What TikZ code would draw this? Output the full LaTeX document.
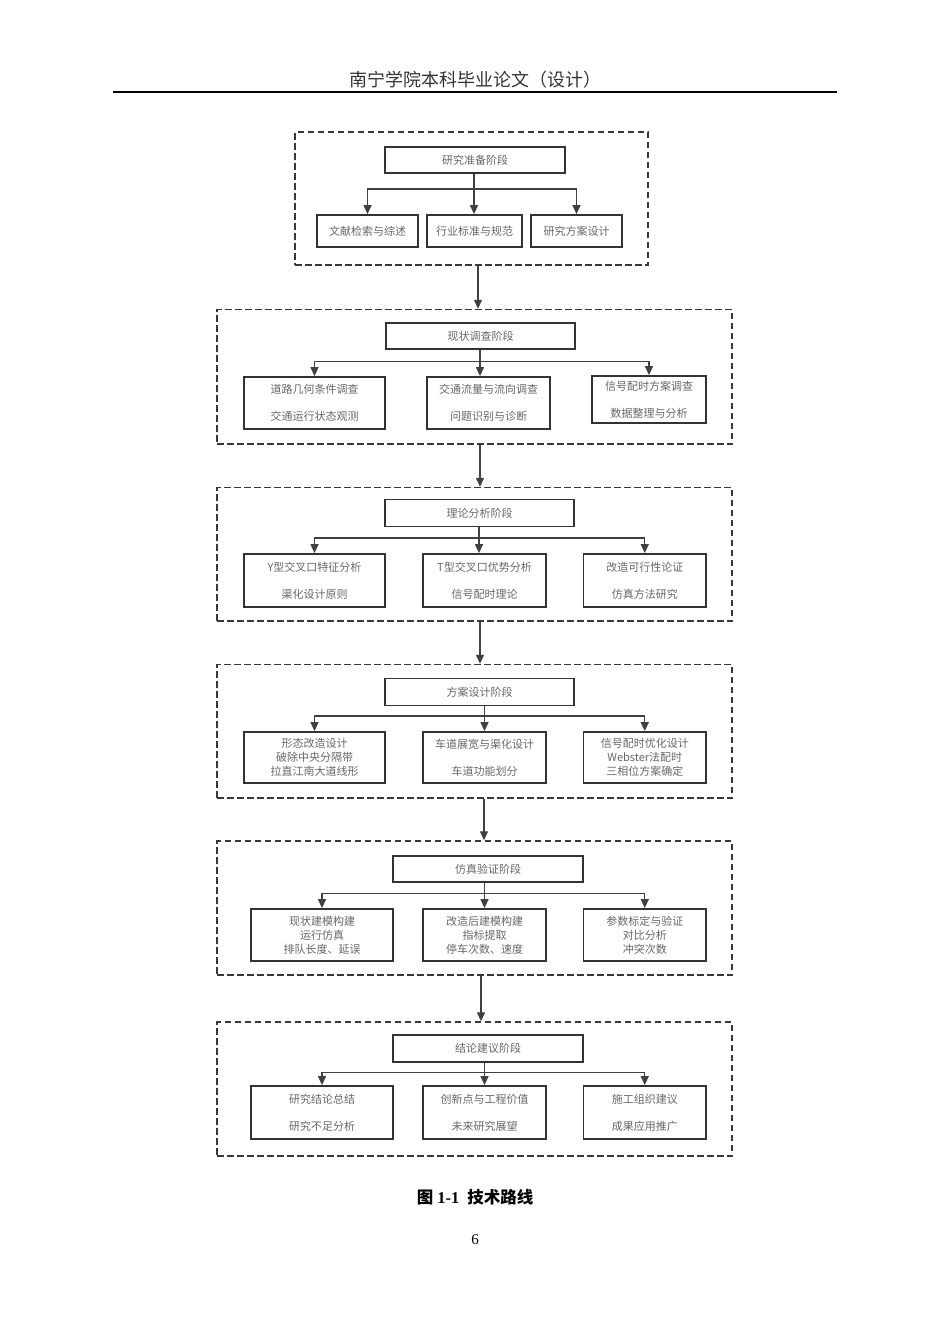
\documentclass[tikz,border=0pt]{standalone}
\usepackage{fontspec}
\setmainfont{Liberation Serif}
\newfontfamily\cjk{Noto Sans CJK SC}
\usetikzlibrary{arrows.meta}

\begin{document}
\begin{tikzpicture}[x=1pt, y=-1pt,
	stagebox/.style={draw=black!78, line width=1.4pt, dash pattern=on 6.5pt off 3.5pt},
	titlebox/.style={draw=black!80, line width=1.8pt, inner sep=0pt, font=\fontsize{11}{14}\selectfont\cjk, text=black!60},
	itembox/.style={draw=black!80, line width=1.8pt, inner sep=0pt, align=center, font=\fontsize{11}{14}\selectfont\cjk, text=black!60},
	link/.style={draw=black!75, line width=1.3pt, -{Triangle[width=8pt, length=9pt]}}]
	\useasboundingbox (0, 0) rectangle (950, 1344);

	% \stagebox#name#x#y#width#height
	\def\stagebox#1#2#3#4#5{
		\node[stagebox, minimum width=#4, minimum height=#5] (#1) at (#2, #3) {};
	}

	% \titlebox#name#x#y#width#height#text
	\def\titlebox#1#2#3#4#5#6{
		\node[titlebox, minimum width=#4, minimum height=#5] (#1) at (#2, #3) {#6};
	}

	% \itembox#name#x#y#width#height#text
	\def\itembox#1#2#3#4#5#6{
		\node[itembox, minimum width=#4, minimum height=#5] (#1) at (#2, #3) {#6};
	}

	% page header
	\node (header) at (475, 80) {\fontsize{18}{20}\selectfont\cjk\color{black!80}南宁学院本科毕业论文（设计）};
	\draw[line width=1.8pt] (113, 92) -- (837, 92);

	% stages
	\stagebox{s1}{471.5}{198.5}{353}{133}
	\stagebox{s2}{474.5}{376.75}{515}{134.5}
	\stagebox{s3}{474.5}{554.25}{515}{133.5}
	\stagebox{s4}{474.5}{731.25}{515}{133.5}
	\stagebox{s5}{474.5}{908}{515}{134}
	\stagebox{s6}{474.5}{1089}{515}{134}

	% stage titles
	\titlebox{t1}{475}{160}{180}{26}{研究准备阶段}
	\titlebox{t2}{480.5}{336}{189}{26}{现状调查阶段}
	\titlebox{t3}{479.5}{513}{189}{27}{理论分析阶段}
	\titlebox{t4}{479.5}{692}{189}{27}{方案设计阶段}
	\titlebox{t5}{488}{869}{190}{26}{仿真验证阶段}
	\titlebox{t6}{488}{1048.5}{190}{27}{结论建议阶段}

	% stage 1
	\itembox{b11}{367.5}{231}{101}{32}{文献检索与综述}
	\itembox{b12}{474.5}{231}{95}{32}{行业标准与规范}
	\itembox{b13}{576.5}{231}{91}{32}{研究方案设计}
	% stage 2
	\itembox{b21}{314.5}{403}{141}{52}{道路几何条件调查\\[13pt]交通运行状态观测}
	\itembox{b22}{488.5}{403}{123}{52}{交通流量与流向调查\\[13pt]问题识别与诊断}
	\itembox{b23}{649}{399.5}{114}{47}{信号配时方案调查\\[13pt]数据整理与分析}
	% stage 3
	\itembox{b31}{314.5}{580.5}{141}{53}{Y型交叉口特征分析\\[13pt]渠化设计原则}
	\itembox{b32}{484.5}{580.5}{123}{53}{T型交叉口优势分析\\[13pt]信号配时理论}
	\itembox{b33}{644.75}{580.5}{122.5}{53}{改造可行性论证\\[13pt]仿真方法研究}
	% stage 4
	\itembox{b41}{314.5}{757.5}{141}{51}{形态改造设计\\破除中央分隔带\\拉直江南大道线形}
	\itembox{b42}{484.5}{757.5}{123}{51}{车道展宽与渠化设计\\[13pt]车道功能划分}
	\itembox{b43}{644.75}{757.5}{122.5}{51}{信号配时优化设计\\Webster法配时\\三相位方案确定}
	% stage 5
	\itembox{b51}{322}{935}{142.5}{52}{现状建模构建\\运行仿真\\排队长度、延误}
	\itembox{b52}{484.5}{935}{123}{52}{改造后建模构建\\指标提取\\停车次数、速度}
	\itembox{b53}{644.75}{935}{122.5}{52}{参数标定与验证\\对比分析\\冲突次数}
	% stage 6
	\itembox{b61}{322}{1112.5}{142.5}{53}{研究结论总结\\[13pt]研究不足分析}
	\itembox{b62}{484.5}{1112.5}{123}{53}{创新点与工程价值\\[13pt]未来研究展望}
	\itembox{b63}{644.75}{1112.5}{122.5}{53}{施工组织建议\\[13pt]成果应用推广}

	% branch points
	\coordinate (j1) at (474, 189);
	\coordinate (j2) at (480, 361.5);
	\coordinate (j3) at (479, 538);
	\coordinate (j4) at (484.5, 716);
	\coordinate (j5) at (484.5, 893.5);
	\coordinate (j6) at (484.5, 1072.5);

	\foreach \s in {1, ..., 6} {
		\draw[link, -] (t\s.south -| j\s) -- (j\s);
		\draw[link] (j\s) -- (j\s |- b\s2.north);
		\draw[link] (j\s) -| (b\s1.north);
		\draw[link] (j\s) -| (b\s3.north);
	}

	% between stages
	\foreach \a/\b/\x in {1/2/478, 2/3/480, 3/4/480, 4/5/484, 5/6/481} {
		\coordinate (x\a) at (\x, 0);
		\draw[link] (s\a.south -| x\a) -- (s\b.north -| x\a);
	}

	\node (caption) at (475, 1197) {\fontsize{16.5}{18}\selectfont\bfseries{\cjk 图}\hspace{4pt}1-1\hspace{8pt}{\cjk 技术路线}};
	\node (pagenum) at (475, 1240) {\fontsize{15}{17}\selectfont 6};
\end{tikzpicture}
\end{document}
